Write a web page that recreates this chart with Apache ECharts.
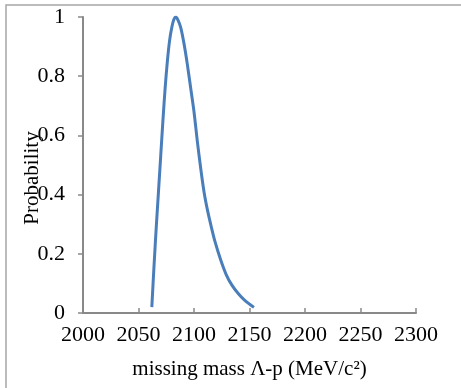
<!DOCTYPE html>
<html>
<head>
<meta charset="utf-8">
<script src="https://cdn.jsdelivr.net/npm/echarts@6/dist/echarts.min.js"></script>
<style>
  html, body { margin: 0; padding: 0; background: #fff; }
  #chart-container { width: 461px; height: 388px; }
</style>
</head>
<body>
<div id="chart-container"></div>
<script>
// values
const massValues = [2062, 2064, 2066, 2068, 2070, 2072, 2074, 2076, 2078, 2080, 2082, 2083.7,
  2085.5, 2088, 2091, 2094, 2097, 2100, 2103, 2106, 2109, 2112, 2115, 2119, 2124, 2129,
  2134, 2140, 2146, 2154];
const probValues = [0.02, 0.16, 0.29, 0.41, 0.53, 0.65, 0.76, 0.85, 0.92, 0.965, 0.993, 1.0,
  0.99, 0.965, 0.91, 0.84, 0.76, 0.68, 0.58, 0.49, 0.41, 0.35, 0.30, 0.24, 0.18, 0.13,
  0.095, 0.065, 0.042, 0.019];
const xName = "missing mass \u039B-p (MeV/c\u00B2)";
const yName = "Probability";

const font = "'Liberation Serif', 'Times New Roman', serif";
const axisColor = "#898989";

let dom = document.getElementById("chart-container");
let myChart = echarts.init(dom, null, { renderer: "canvas" });

let points = massValues.map((m, i) => [m, probValues[i]]);

let option = {
  animation: false,
  grid: { left: 83, top: 17, right: 45, bottom: 75 },
  graphic: [
    {
      type: "rect",
      shape: { x: 6, y: 5, width: 600, height: 500 },
      style: { fill: "none", stroke: "#a6a6a6", lineWidth: 1.5 },
      silent: true
    }
  ],
  xAxis: {
    type: "value",
    min: 2000,
    max: 2300,
    interval: 50,
    name: xName,
    nameLocation: "middle",
    nameGap: 46,
    nameMoveOverlap: false,
    nameTextStyle: { fontFamily: font, fontSize: 21, color: "#000" },
    axisLine: { lineStyle: { color: axisColor, width: 2 } },
    axisTick: { inside: true, length: 5, lineStyle: { color: axisColor, width: 1.5 } },
    axisLabel: { fontFamily: font, fontSize: 22, color: "#000", margin: 11, formatter: (v) => String(v) },
    splitLine: { show: false }
  },
  yAxis: {
    type: "value",
    min: 0,
    max: 1,
    interval: 0.2,
    name: yName,
    nameLocation: "middle",
    nameGap: 40,
    nameMoveOverlap: false,
    nameTextStyle: { fontFamily: font, fontSize: 21, color: "#000", padding: [0, 26, 0, 0] },
    axisLine: { show: true, lineStyle: { color: axisColor, width: 2 } },
    axisTick: { show: true, length: 5, lineStyle: { color: axisColor, width: 1.5 } },
    axisLabel: { fontFamily: font, fontSize: 22, color: "#000", margin: 18 },
    splitLine: { show: false }
  },
  series: [
    {
      type: "line",
      data: points,
      smooth: 0.3,
      showSymbol: false,
      lineStyle: { color: "#4A7EBB", width: 3 }
    }
  ]
};

myChart.setOption(option);
</script>
</body>
</html>
